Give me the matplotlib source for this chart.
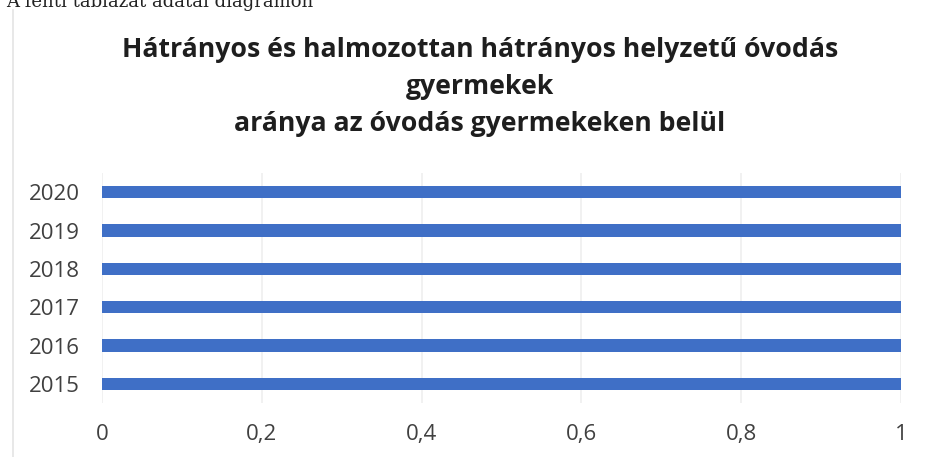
import matplotlib
matplotlib.use("Agg")
import matplotlib.pyplot as plt
from matplotlib.lines import Line2D

years = ["2015", "2016", "2017", "2018", "2019", "2020"]
values = [1, 1, 1, 1, 1, 1]
x_ticks = [0, 0.2, 0.4, 0.6, 0.8, 1]
x_labels = ["0", "0,2", "0,4", "0,6", "0,8", "1"]

title = ("Hátrányos és halmozottan hátrányos helyzetű óvodás\n"
         "gyermekek\n"
         "aránya az óvodás gyermekeken belül")
caption = "A fenti táblázat adatai diagramon"

W, H = 926, 457
fig = plt.figure(figsize=(W / 100, H / 100), dpi=100)

# scanned caption, its upper half cut off at the top edge as in the scan
fig.text(6 / W, 1 - 1 / H, caption, family="DejaVu Serif", fontsize=13,
         color="#222222", ha="left", va="center")

# faint chart-area border from the scan
fig.add_artist(Line2D([13 / W, 13 / W], [0, 1 - 10 / H], transform=fig.transFigure,
                      color="#e4e4e4", lw=1.2))

fig.text(480 / W, 1 - 87 / H, title, family="Open Sans", fontweight="bold",
         fontsize=19.2, color="#1e1e1e", ha="center", va="center",
         linespacing=1.55)

ax = fig.add_axes([102 / W, 1 - 403 / H, 799 / W, 230 / H])
ax.barh(range(len(years)), values, height=0.32, color="#3f6fc6", zorder=3)
ax.set_xlim(0, 1)
ax.set_ylim(-0.5, len(years) - 0.5)
ax.set_yticks(range(len(years)))
ax.set_yticklabels(years)
ax.set_xticks(x_ticks)
ax.set_xticklabels(x_labels)
ax.grid(axis="x", color="#efefef", lw=1.2, zorder=0)
for s in ax.spines.values():
    s.set_visible(False)
ax.tick_params(length=0, colors="#404040", labelsize=16)
ax.tick_params(axis="x", pad=15)
ax.tick_params(axis="y", pad=16)
for lab in ax.get_xticklabels() + ax.get_yticklabels():
    lab.set_family("Open Sans")

fig.savefig("out.png", dpi=100)
